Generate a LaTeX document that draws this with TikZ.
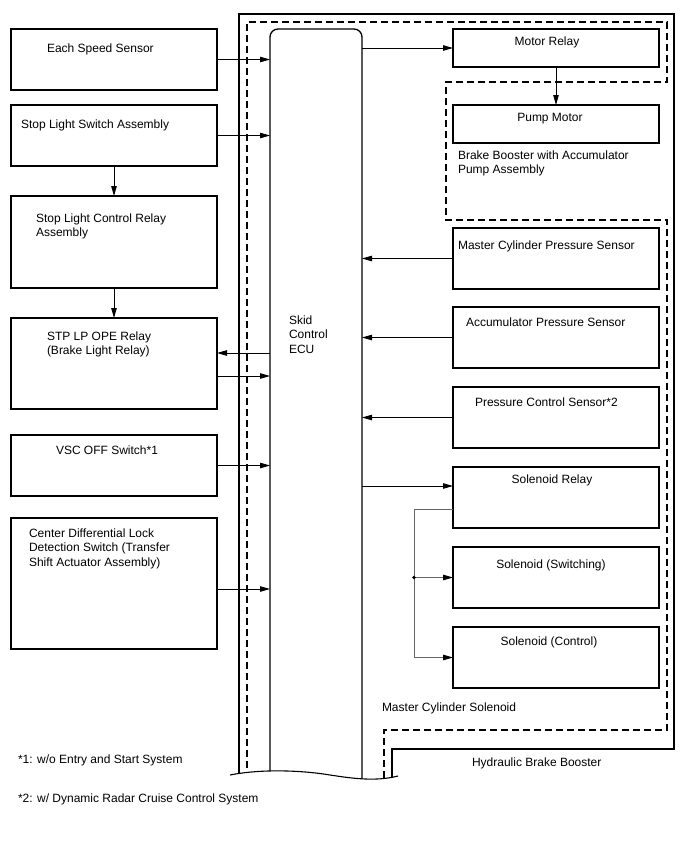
\documentclass[tikz,border=0pt]{standalone}
\usepackage{fontspec}
\setmainfont{Liberation Sans}
\usetikzlibrary{arrows.meta,calc}
\begin{document}
\begin{tikzpicture}[x=1pt,y=-1pt,
  box/.style={draw, line width=1.2pt, minimum width=206pt, inner sep=0pt, outer sep=0pt},
  lbl/.style={anchor=north west, inner sep=0pt, outer sep=0pt, align=left, font=\fontsize{12}{14.5}\selectfont},
  clbl/.style={anchor=north, inner sep=0pt, outer sep=0pt, align=center, font=\fontsize{12}{14.5}\selectfont},
  arr/.style={line width=0.8pt, -{Triangle[length=10pt,width=5.5pt,color=black]}},
  branch/.style={line width=0.9pt, draw=black!60},
  frame/.style={line width=1.3pt},
  dframe/.style={line width=1.3pt, dash pattern=on 7pt off 4pt}
]
\useasboundingbox (0,0) rectangle (688,852);

% enclosures
\draw[frame] (239,790) -- (239,14) -- (674,14) -- (674,749) -- (392,749) -- (392,790);
\draw[dframe] (247,790) -- (247,22) -- (667,22) -- (667,82) -- (446,82) -- (446,220) -- (667,220) -- (667,730) -- (384,730) -- (384,790);

% ECU
\node[inner sep=0pt, outer sep=0pt, minimum width=92pt, minimum height=746pt] (ecu) at (316,402) {};
\draw[frame, rounded corners=8pt] (270,790) -- (270,29) -- (362,29) -- (362,790);
\fill[white] (229,775) .. controls (260,769) and (300,770) .. (330,775) .. controls (350,778) and (375,782) .. (399,776) -- (399,800) -- (229,800) -- cycle;
\draw[line width=1.1pt] (230,775) .. controls (260,769) and (300,770) .. (330,775) .. controls (350,778) and (375,782) .. (398,776);
\node[lbl] (ecut) at (289,315.7) {Skid\\Control\\ECU};

% left boxes
\node[box, minimum height=61pt] (ess) at (114,59.5) {};
\node[box, minimum height=61pt] (sls) at (114,135.5) {};
\node[box, minimum height=92pt] (slc) at (114,242) {};
\node[box, minimum height=91pt] (stp) at (114,363.5) {};
\node[box, minimum height=61pt] (vsc) at (114,465.5) {};
\node[box, minimum height=131pt] (cdl) at (114,583.5) {};

\node[lbl] (esst) at (47,43.5) {Each Speed Sensor};
\node[lbl] (slst) at (21,119.7) {Stop Light Switch Assembly};
\node[lbl] (slct) at (36,213.7) {Stop Light Control Relay\\Assembly};
\node[lbl] (stpt) at (47,331.7) {STP LP OPE Relay\\(Brake Light Relay)};
\node[lbl] (vsct) at (56,445.7) {VSC OFF Switch*1};
\node[lbl] (cdlt) at (29,528.7) {Center Differential Lock\\Detection Switch (Transfer\\Shift Actuator Assembly)};

% right boxes
\node[box, minimum height=38pt] (mr) at (556,48) {};
\node[box, minimum height=38pt] (pm) at (556,124) {};
\node[box, minimum height=61pt] (mcps) at (556,258.5) {};
\node[box, minimum height=61pt] (aps) at (556,337.5) {};
\node[box, minimum height=61pt] (pcs) at (556,417.5) {};
\node[box, minimum height=61pt] (sr) at (556,497.5) {};
\node[box, minimum height=61pt] (ss) at (556,577.5) {};
\node[box, minimum height=61pt] (sc) at (556,657.5) {};

\node[clbl] (mrt) at (547,36.7) {Motor Relay};
\node[clbl] (pmt) at (550,113.7) {Pump Motor};
\node[lbl] (bbt) at (458,150.7) {Brake Booster with Accumulator\\Pump Assembly};
\node[lbl] (mcpst) at (458,240.7) {Master Cylinder Pressure Sensor};
\node[lbl] (apst) at (466,317.7) {Accumulator Pressure Sensor};
\node[lbl] (pcst) at (475,397.7) {Pressure Control Sensor*2};
\node[clbl] (srt) at (552,474.7) {Solenoid Relay};
\node[clbl] (sst) at (551,559.7) {Solenoid (Switching)};
\node[clbl] (sct) at (549,636.7) {Solenoid (Control)};
\node[lbl] (mcst) at (382,702.7) {Master Cylinder Solenoid};
\node[lbl] (hbbt) at (472,757.7) {Hydraulic Brake Booster};

% footnotes
\node[lbl] (fn1) at (18,754.7) {*1: w/o Entry and Start System};
\node[lbl] (fn2) at (18,793.7) {*2: w/ Dynamic Radar Cruise Control System};

% left connectors
\draw[arr] (ess.east) -- (ecu.west |- ess.east);
\draw[arr] (sls.east) -- (ecu.west |- sls.east);
\draw[arr] (sls.south) -- (slc.north);
\draw[arr] (slc.south) -- (stp.north);
\coordinate (stpa) at ([yshift=10.5pt]stp.east);
\coordinate (stpb) at ([yshift=-12.5pt]stp.east);
\draw[arr] (ecu.west |- stpa) -- (stpa);
\draw[arr] (stpb) -- (ecu.west |- stpb);
\draw[arr] (vsc.east) -- (ecu.west |- vsc.east);
\coordinate (cdla) at ([yshift=-5.5pt]cdl.east);
\draw[arr] (cdla) -- (ecu.west |- cdla);

% right connectors
\draw[arr] (ecu.east |- mr.west) -- (mr.west);
\draw[arr] (mr.south) -- (pm.north);
\draw[arr] (mcps.west) -- (ecu.east |- mcps.west);
\draw[arr] (aps.west) -- (ecu.east |- aps.west);
\draw[arr] (pcs.west) -- (ecu.east |- pcs.west);
\coordinate (sra) at ([yshift=11.5pt]sr.west);
\draw[arr] (ecu.east |- sra) -- (sra);

% solenoid branch
\coordinate (srb) at ([yshift=-11.5pt]sr.west);
\coordinate (jn) at (414,577.5);
\draw[branch, -{Triangle[length=10pt,width=5.5pt,color=black]}] (srb) -| (jn |- sc.west) -- (sc.west);
\draw[branch, -{Triangle[length=10pt,width=5.5pt,color=black]}] (jn) -- (ss.west);
\fill (jn) circle (1.8pt);
\end{tikzpicture}
\end{document}
